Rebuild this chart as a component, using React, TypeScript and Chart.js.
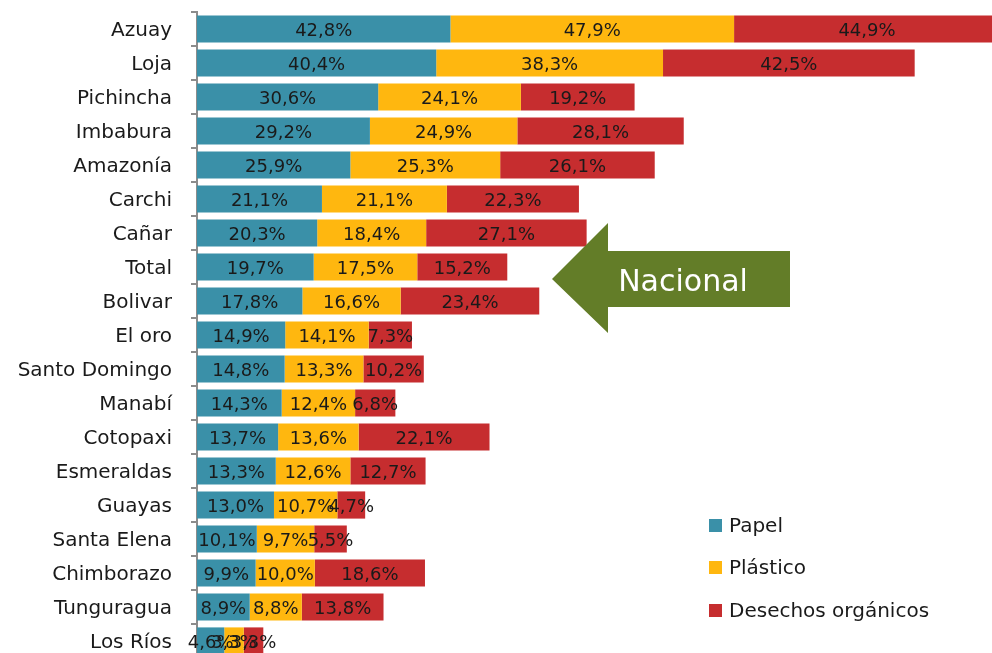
import React, { useEffect, useRef } from "react";
import { Chart, registerables } from "chart.js";

Chart.register(...registerables);

const categories = [
  "Azuay", "Loja", "Pichincha", "Imbabura", "Amazonía", "Carchi", "Cañar", "Total",
  "Bolivar", "El oro", "Santo Domingo", "Manabí", "Cotopaxi", "Esmeraldas", "Guayas",
  "Santa Elena", "Chimborazo", "Tunguragua", "Los Ríos",
];
const papel = [42.8, 40.4, 30.6, 29.2, 25.9, 21.1, 20.3, 19.7, 17.8, 14.9, 14.8, 14.3, 13.7, 13.3, 13.0, 10.1, 9.9, 8.9, 4.6];
const plastico = [47.9, 38.3, 24.1, 24.9, 25.3, 21.1, 18.4, 17.5, 16.6, 14.1, 13.3, 12.4, 13.6, 12.6, 10.7, 9.7, 10.0, 8.8, 3.3];
const organicos = [44.9, 42.5, 19.2, 28.1, 26.1, 22.3, 27.1, 15.2, 23.4, 7.3, 10.2, 6.8, 22.1, 12.7, 4.7, 5.5, 18.6, 13.8, 3.3];
const seriesNames = ["Papel", "Plástico", "Desechos orgánicos"];
const seriesColors = ["#3A90A8", "#FFB70F", "#C62D2F"];
const arrowLabel = "Nacional";

const FONT = "'DejaVu Sans', sans-serif";

const dataLabelPlugin = {
  id: "segLabels",
  afterDatasetsDraw(chart: any) {
    const ctx = chart.ctx;
    ctx.save();
    ctx.font = `18px ${FONT}`;
    ctx.fillStyle = "#1a1a1a";
    ctx.textAlign = "center";
    ctx.textBaseline = "middle";
    chart.data.datasets.forEach((ds: any, i: number) => {
      const meta = chart.getDatasetMeta(i);
      meta.data.forEach((el: any, j: number) => {
        const v = ds.data[j];
        const cx = (el.x + el.base) / 2;
        ctx.fillText(v.toFixed(1).replace(".", ",") + "%", cx, el.y + 2);
      });
    });
    ctx.restore();
  },
};

export default function App() {
  const ref = useRef<HTMLCanvasElement>(null);
  useEffect(() => {
    if (!ref.current) return;
    const chart = new Chart(ref.current, {
      type: "bar",
      data: {
        labels: categories,
        datasets: [papel, plastico, organicos].map((d, i) => ({
          label: seriesNames[i],
          data: d,
          backgroundColor: seriesColors[i],
          borderWidth: 0,
          barPercentage: 0.8,
          categoryPercentage: 1,
        })),
      },
      options: {
        indexAxis: "y",
        responsive: false,
        animation: false,
        layout: { padding: { top: 12, bottom: 12, left: 0, right: 0 } },
        plugins: { legend: { display: false }, tooltip: { enabled: false } },
        scales: {
          x: { stacked: true, display: false, min: 0, max: 140 },
          y: {
            stacked: true,
            afterFit: (s: any) => { s.width = 197; s.paddingTop = 0; s.paddingBottom = 0; },
            border: { display: true, color: "#8c8c8c", width: 2 },
            grid: { drawOnChartArea: false, drawTicks: true, tickLength: 6, color: "#8c8c8c", lineWidth: 2, offset: true },
            ticks: { padding: 19, labelOffset: 2, color: "#1a1a1a", font: { family: FONT, size: 20 }, autoSkip: false },
          },
        },
      },
      plugins: [dataLabelPlugin],
    } as any);
    return () => chart.destroy();
  }, []);

  return (
    <div style={{ position: "fixed", left: 0, top: 0, width: 992, height: 653, overflow: "hidden", background: "#fff" }}>
      <canvas ref={ref} width={1026} height={670} style={{ position: "absolute", left: 0, top: 0, width: 1026, height: 670 }} />
      <svg width={992} height={653} style={{ position: "absolute", left: 0, top: 0 }}>
        <polygon points="552,279 608,223 608,251 790,251 790,307 608,307 608,333" fill="#637D28" />
        <text x={683} y={282} fill="#fff" fontFamily={FONT} fontSize={30} textAnchor="middle" dominantBaseline="middle">{arrowLabel}</text>
      </svg>
      {seriesNames.map((n, i) => (
        <div key={n} style={{ position: "absolute", left: 709, top: [525, 567, 610][i] - 12, height: 24, display: "flex", alignItems: "center", fontFamily: FONT, fontSize: 20, color: "#1a1a1a", whiteSpace: "nowrap" }}>
          <span style={{ display: "inline-block", width: 13, height: 13, background: seriesColors[i], marginRight: 7 }} />
          {n}
        </div>
      ))}
    </div>
  );
}
